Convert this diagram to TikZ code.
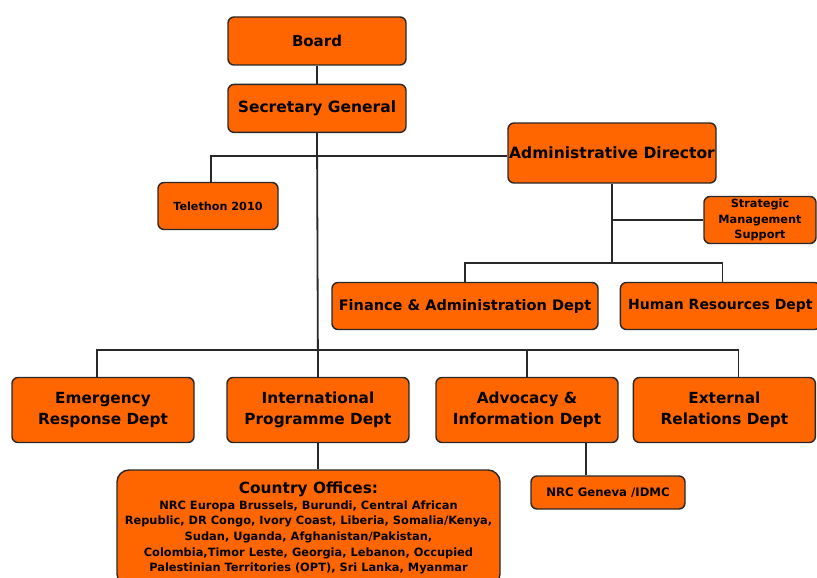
\documentclass[tikz,border=0pt]{standalone}
\usepackage{fontspec}
\setmainfont{DejaVu Sans}
\usetikzlibrary{positioning,calc}

\definecolor{nrcorange}{RGB}{255,102,0}
\definecolor{nrcline}{RGB}{40,40,40}

\begin{document}
\begin{tikzpicture}[x=1pt,y=-1pt,
	unit/.style={rectangle, draw=nrcline, fill=nrcorange, line width=1.4pt, rounded corners=6pt, inner sep=0pt, align=center, font=\bfseries},
	link/.style={draw=nrcline, line width=1.8pt}]
	\useasboundingbox[fill=white] (0,0) rectangle (817,578);
	% top of the chart
	\node[unit, minimum width=178pt, minimum height=48pt, font=\bfseries\fontsize{15}{18}\selectfont] (board) at (317,41) {Board};
	\node[unit, minimum width=178pt, minimum height=48pt, below=18pt of board, font=\bfseries\fontsize{15.5}{18}\selectfont] (secgen) {Secretary General};
	\node[unit, minimum width=208pt, minimum height=60pt, font=\bfseries\fontsize{15.5}{18}\selectfont] (admin) at (612,153) {Administrative Director};
	\node[unit, minimum width=120pt, minimum height=47pt, font=\bfseries\fontsize{11.2}{14}\selectfont] (telethon) at (218,206) {Telethon 2010};
	\node[unit, minimum width=112pt, minimum height=47pt, font=\bfseries\fontsize{11.3}{15.5}\selectfont] (strategic) at (760,220) {Strategic\\Management\\Support};
	% admin departments
	\node[unit, minimum width=266pt, minimum height=47pt, font=\bfseries\fontsize{14.5}{18}\selectfont] (finance) at (465,306) {Finance \& Administration Dept};
	\node[unit, minimum width=200pt, minimum height=47pt, right=21pt of finance, font=\bfseries\fontsize{14}{18}\selectfont] (hr) {Human Resources Dept};
	% programme departments
	\node[unit, minimum width=182pt, minimum height=65pt, font=\bfseries\fontsize{15.3}{21}\selectfont] (emergency) at (103,410) {Emergency\\Response Dept};
	\node[unit, minimum width=182pt, minimum height=65pt, font=\bfseries\fontsize{15.3}{21}\selectfont] (intl) at (318,410) {International\\Programme Dept};
	\node[unit, minimum width=182pt, minimum height=65pt, font=\bfseries\fontsize{15.3}{21}\selectfont] (advocacy) at (527,410) {Advocacy \&\\Information Dept};
	\node[unit, minimum width=182pt, minimum height=65pt, right=14pt of advocacy, font=\bfseries\fontsize{15.3}{21}\selectfont] (external) {External\\Relations Dept};
	% offices
	\node[unit, minimum width=383pt, minimum height=116pt, rounded corners=12pt, font=\bfseries\fontsize{11.4}{15.7}\selectfont] (country) at (308.5,528) {{\fontsize{15.4}{17}\selectfont Country Offices:}\\NRC Europa Brussels, Burundi, Central African\\Republic, DR Congo, Ivory Coast, Liberia, Somalia/Kenya,\\Sudan, Uganda, Afghanistan/Pakistan,\\Colombia,Timor Leste, Georgia, Lebanon, Occupied\\Palestinian Territories (OPT), Sri Lanka, Myanmar};
	\node[unit, minimum width=154pt, minimum height=33pt, font=\bfseries\fontsize{11.7}{14}\selectfont] (geneva) at (608,492.5) {NRC Geneva /IDMC};
	% connectors
	\coordinate (adminbus) at (612,263);
	\coordinate (deptbus) at (318,350);
	\draw[link] (board) -- (secgen);
	\draw[link] (secgen.south) -- (intl.north);
	\draw[link] ([xshift=-7pt]telethon.north) |- ([yshift=-3pt]admin.west);
	\draw[link] (admin.south) -- (adminbus);
	\draw[link] (strategic.west) -- (strategic.west -| admin.south);
	\draw[link] (finance.north) |- (adminbus) -| ([xshift=2pt]hr.north);
	\draw[link] ([xshift=-6pt]emergency.north) |- (deptbus) -| ([xshift=14pt]external.north);
	\draw[link] (advocacy.north) -- (advocacy.north |- deptbus);
	\draw[link] (intl.south) -- (intl.south |- country.north);
	\draw[link] ([xshift=-22pt]geneva.north) -- ([xshift=-22pt]geneva.north |- advocacy.south);
\end{tikzpicture}
\end{document}
